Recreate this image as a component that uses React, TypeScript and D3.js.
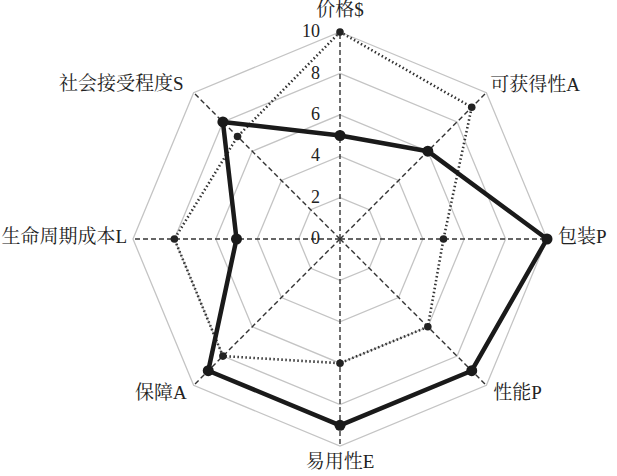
import React from "react";
import * as d3 from "d3";

const categories = ["价格$", "可获得性A", "包装P", "性能P", "易用性E", "保障A", "生命周期成本L", "社会接受程度S"];
const solidSeries = [5, 6, 10, 9, 9, 9, 5, 8];
const dottedSeries = [10, 9, 5, 6, 6, 8, 8, 7];
const tickValues = [0, 2, 4, 6, 8, 10];
const ringValues = [2, 4, 6, 8, 10];

const W = 617;
const H = 476;
const cx = 340;
const cy = 239;
const R = 207;
const FONT = "'Liberation Serif', 'Noto Serif CJK SC', 'Noto Sans CJK SC', serif";

export default function App() {
  const r = d3.scaleLinear().domain([0, 10]).range([0, R]);
  const n = categories.length;
  const angle = (i: number) => (i * 2 * Math.PI) / n;
  const pt = (i: number, v: number): [number, number] => [
    cx + r(v) * Math.sin(angle(i)),
    cy - r(v) * Math.cos(angle(i)),
  ];
  const closed = d3.line<[number, number]>().curve(d3.curveLinearClosed);

  const ring = (v: number) => closed(categories.map((_, i) => pt(i, v))) || "";
  const solidPts = solidSeries.map((v, i) => pt(i, v));
  const dottedPts = dottedSeries.map((v, i) => pt(i, v));

  const labelPos: { dx: number; dy: number; anchor: string }[] = [
    { dx: 0, dy: -20, anchor: "middle" },
    { dx: 4, dy: -6, anchor: "start" },
    { dx: 11, dy: 0, anchor: "start" },
    { dx: 7, dy: 9, anchor: "start" },
    { dx: 0, dy: 18, anchor: "middle" },
    { dx: -7, dy: 9, anchor: "end" },
    { dx: -6, dy: 0, anchor: "end" },
    { dx: -10, dy: -7, anchor: "end" },
  ];

  return (
    <svg width={W} height={H} style={{ position: "absolute", left: 0, top: 0, background: "#fff" }}>
      <g>
        {ringValues.map((v) => (
          <path key={v} d={ring(v)} fill="none" stroke="#c4c4c4" strokeWidth={1.3} />
        ))}
        {categories.map((_, i) => {
          const [x, y] = pt(i, 10);
          return (
            <line key={i} x1={cx} y1={cy} x2={x} y2={y} stroke="#333" strokeWidth={1.4} strokeDasharray="5,3" />
          );
        })}
        {tickValues.map((v) => (
          <text
            key={v}
            x={cx - 20}
            y={cy - r(v) + 1}
            textAnchor="end"
            dominantBaseline="middle"
            fontFamily={FONT}
            fontSize={18}
            fill="#222"
          >
            {v}
          </text>
        ))}
        <path d={closed(dottedPts) || ""} fill="none" stroke="#333" strokeWidth={2.6} strokeDasharray="1.5,2.5" />
        {dottedPts.map(([x, y], i) => (
          <circle key={i} cx={x} cy={y} r={3.8} fill="#222" />
        ))}
        <path d={closed(solidPts) || ""} fill="none" stroke="#1a1a1a" strokeWidth={4.5} strokeLinejoin="round" />
        {solidPts.map(([x, y], i) => (
          <circle key={i} cx={x} cy={y} r={5.5} fill="#1a1a1a" />
        ))}
        {categories.map((c, i) => {
          const [x, y] = pt(i, 10);
          const p = labelPos[i];
          return (
            <text
              key={c}
              x={x + p.dx}
              y={y + p.dy}
              textAnchor={p.anchor}
              dominantBaseline="middle"
              fontFamily={FONT}
              fontSize={19}
              fill="#222"
            >
              {c}
            </text>
          );
        })}
      </g>
    </svg>
  );
}
